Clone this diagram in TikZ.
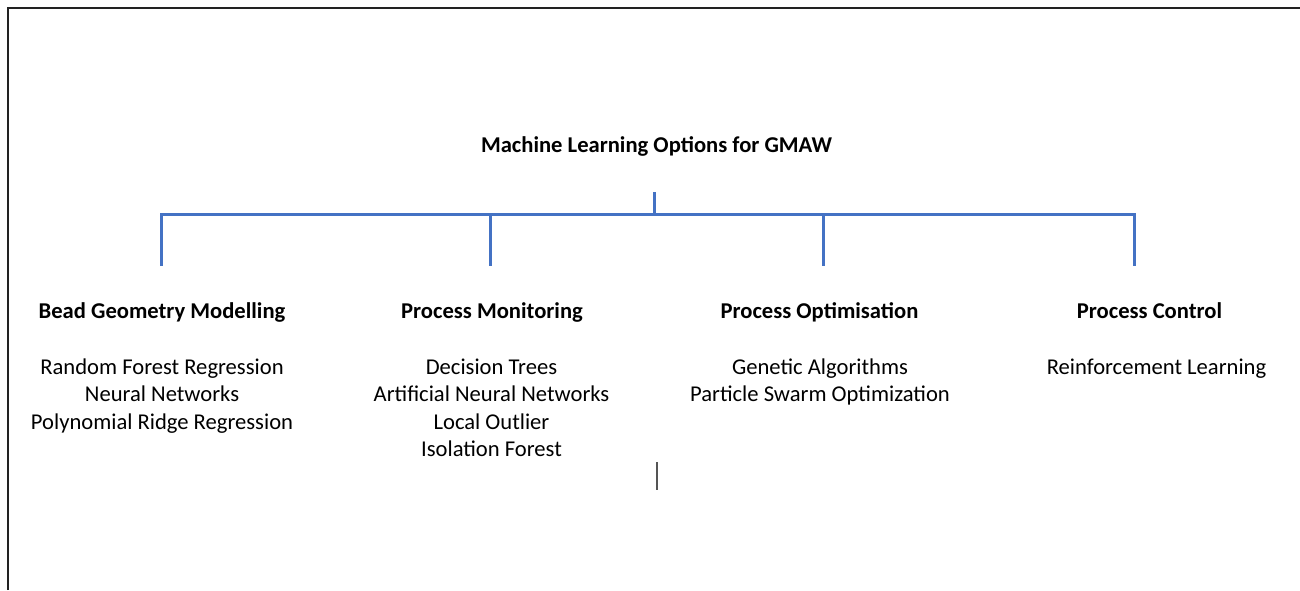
\documentclass[tikz,border=0pt]{standalone}
\usepackage{fontspec}
\setmainfont{Carlito}
\definecolor{treeblue}{HTML}{4472C4}
\definecolor{frame}{HTML}{222222}
\definecolor{cursor}{HTML}{555555}
\begin{document}
\begin{tikzpicture}[x=1pt,y=-1pt,
  title/.style={font=\fontsize{22.6}{27.4}\selectfont\bfseries, inner sep=0pt, anchor=base},
  head/.style={font=\fontsize{22.6}{27.4}\selectfont\bfseries, inner sep=0pt, anchor=base},
  items/.style={font=\fontsize{22.6}{27.4}\selectfont, inner sep=0pt, align=center, anchor=base},
  branch/.style={draw=treeblue, line width=3pt, line cap=butt, line join=miter},
  framel/.style={draw=frame, line width=1.6pt}]
\useasboundingbox (0,0) rectangle (1300,590);
% frame
\coordinate (fbl) at (8,590);
\coordinate (ftl) at (8,8);
\coordinate (ftr) at (1300,8);
\draw[framel] (fbl) -- (ftl) -- (ftr);
% title
\node[title] (t) at (656.5,152.3) {Machine Learning Options for GMAW};
% tree
\coordinate (stemtop) at (654.5,192);
\coordinate (stembot) at (654.5,214.5);
\coordinate (b1) at (161.5,214.5);
\coordinate (b2) at (490.5,214.5);
\coordinate (b3) at (823.5,214.5);
\coordinate (b4) at (1134,214.5);
\coordinate (e1) at (161.5,266);
\coordinate (e2) at (490.5,266);
\coordinate (e3) at (823.5,266);
\coordinate (e4) at (1134,266);
\draw[branch] (stemtop) -- (stembot);
\draw[branch] (e1) -- (b1) -- (b4) -- (e4);
\draw[branch] (b2) -- (e2);
\draw[branch] (b3) -- (e3);
% headings
\node[head] (h1) at (162,318.3) {Bead Geometry Modelling};
\node[head] (h2) at (492,318.3) {Process Monitoring};
\node[head] (h3) at (819.5,318.3) {Process Optimisation};
\node[head] (h4) at (1149.5,318.3) {Process Control};
% items (base anchor = baseline of the last line)
\node[items] (i1) at (162,429.1) {Random Forest Regression\\Neural Networks\\Polynomial Ridge Regression};
\node[items] (i2) at (491.5,456.5) {Decision Trees\\Artificial Neural Networks\\Local Outlier\\Isolation Forest};
\node[items] (i3) at (820,401.7) {Genetic Algorithms\\Particle Swarm Optimization};
\node[items] (i4) at (1156.5,374.3) {Reinforcement Learning};
% cursor mark
\coordinate (c1) at (657,462);
\coordinate (c2) at (657,490);
\draw[draw=cursor, line width=1.8pt] (c1) -- (c2);
\end{tikzpicture}
\end{document}
